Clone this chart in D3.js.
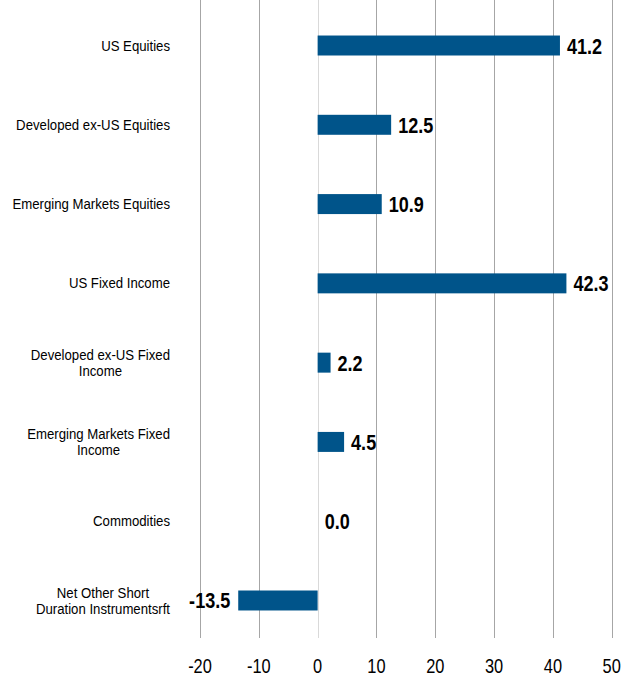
<!DOCTYPE html>
<html>
<head>
<meta charset="utf-8">
<script src="https://cdnjs.cloudflare.com/ajax/libs/d3/7.8.5/d3.min.js"></script>
<style>
body { margin: 0; background: #fff; }
text { font-family: "Liberation Sans", Arial, sans-serif; fill: #000; }
</style>
</head>
<body>
<div id="chart"></div>
<script>
var categories = [
  ["US Equities"],
  ["Developed ex-US Equities"],
  ["Emerging Markets Equities"],
  ["US Fixed Income"],
  ["Developed ex-US Fixed", "Income"],
  ["Emerging Markets Fixed", "Income"],
  ["Commodities"],
  ["Net Other Short", "Duration Instrumentsrft"]
]
var values = [41.2, 12.5, 10.9, 42.3, 2.2, 4.5, 0.0, -13.5]
var xTicks = [-20, -10, 0, 10, 20, 30, 40, 50]

var narrow = 0.82

var svg = d3.select("#chart")
.append("svg")
.attr("width", 638)
.attr("height", 680)

var xScale = d3.scaleLinear()
.domain([-20, 50])
.range([200, 611.7])

var yScale = d3.scaleBand()
.domain(d3.range(values.length))
.range([0, 646])
.paddingInner(0.748)
.paddingOuter(0.448)

// gridlines
svg.append("g")
.selectAll("line")
.data(xTicks)
.join("line")
.attr("x1", function(d){ return Math.round(xScale(d)) + 0.5 })
.attr("x2", function(d){ return Math.round(xScale(d)) + 0.5 })
.attr("y1", 0)
.attr("y2", 638)
.attr("stroke", function(d){ return d === 0 ? "#d9d9d9" : "#a6a6a6" })
.attr("stroke-width", 1)

// tick labels
svg.append("g")
.selectAll("text")
.data(xTicks)
.join("text")
.attr("transform", function(d){ return "translate(" + xScale(d) + ",673) scale(" + narrow + ",1)" })
.attr("text-anchor", "middle")
.style("font-size", "20px")
.text(function(d){ return d })

// bars
svg.append("g")
.selectAll("rect")
.data(values)
.join("rect")
.attr("x", function(d){ return xScale(Math.min(0, d)) })
.attr("width", function(d){ return Math.abs(xScale(d) - xScale(0)) })
.attr("y", function(d, i){ return yScale(i) })
.attr("height", yScale.bandwidth())
.attr("fill", "#00548a")

// value labels
svg.append("g")
.selectAll("text")
.data(values)
.join("text")
.attr("transform", function(d, i){
  var x = d < 0 ? xScale(d) - 8 : xScale(d) + 7
  var y = yScale(i) + yScale.bandwidth() / 2 + 8
  return "translate(" + x + "," + y + ") scale(" + narrow + ",1)"
})
.attr("text-anchor", function(d){ return d < 0 ? "end" : "start" })
.style("font-size", "22px")
.style("font-weight", "bold")
.text(function(d){ return d.toFixed(1) })

// category labels, lines centred in a block right aligned at x=170
var labelScale = 0.88
var labels = svg.append("g")
.selectAll("g")
.data(categories)
.join("g")
.attr("transform", function(d, i){
  var c = yScale(i) + yScale.bandwidth() / 2
  return "translate(170," + c + ") scale(" + labelScale + ",1)"
})

labels.each(function(lines){
  var g = d3.select(this)
  var texts = lines.map(function(line, j){
    var base = lines.length === 1 ? 5 : (j === 0 ? -2.5 : 13.5)
    return g.append("text")
    .attr("y", base)
    .style("font-size", "15px")
    .attr("text-anchor", "middle")
    .text(line)
  })
  var maxW = d3.max(texts, function(t){ return t.node().getComputedTextLength() })
  texts.forEach(function(t){ t.attr("x", -maxW / 2) })
})
</script>
</body>
</html>
